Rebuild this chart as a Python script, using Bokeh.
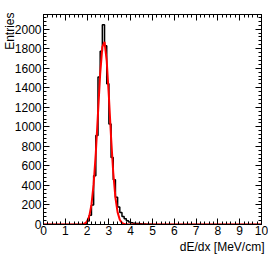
import numpy as np
from bokeh.plotting import figure
from bokeh.models import (Range1d, LinearAxis, SingleIntervalTicker, Title,
                          CustomJSTickFormatter)
from bokeh.embed import file_html
from bokeh.resources import INLINE

# ---- data ----
bin_lo = 0.0
bin_hi = 10.0
n_bins = 100
counts = [
    0, 0, 0, 0, 0, 0, 0, 0, 0, 0,
    0, 0, 0, 0, 0, 0, 0, 1, 3, 12,
    35, 95, 200, 500, 910, 1510, 1775, 2045, 1830, 1440,
    1030, 687, 458, 280, 178, 123, 82, 58, 38, 26,
    19, 14, 11, 9, 7, 5, 4, 3, 2, 2,
    1, 1, 1, 0, 0, 0, 0, 0, 0, 0,
    0, 0, 0, 0, 0, 0, 0, 0, 0, 0,
    0, 0, 0, 0, 0, 0, 0, 0, 0, 0,
    0, 0, 0, 0, 0, 0, 0, 0, 0, 0,
    0, 0, 0, 0, 0, 0, 0, 0, 0, 0,
]
fit_x = [0.0, 1.5, 1.6, 1.7, 1.8, 1.9, 2.0, 2.1, 2.2, 2.3, 2.4, 2.5, 2.6, 2.7,
         2.8, 2.9, 3.0, 3.1, 3.2, 3.3, 3.4, 3.5, 3.6, 3.7, 3.8, 3.9, 4.0, 10.0]
fit_y = [0, 0, 0.2, 0.7, 3, 10, 32, 86, 203, 413, 735, 1140, 1542, 1818,
         1869, 1674, 1308, 891, 529, 274, 124, 49, 17, 5, 1.3, 0.3, 0, 0]
x_title = "dE/dx [MeV/cm]"
y_title = "Entries"
y_max = 2150

FONT = "Liberation Sans"
FS = "12px"

p = figure(width=268, height=258, output_backend="svg", toolbar_location=None,
           x_range=Range1d(bin_lo, bin_hi), y_range=Range1d(0, y_max),
           x_axis_location=None, y_axis_location=None,
           min_border_left=43, min_border_right=7, min_border_top=14, min_border_bottom=34)
p.grid.visible = False
p.outline_line_color = "black"
p.outline_line_width = 1
p.background_fill_color = "white"
p.border_fill_color = "white"


def make_axis(interval, labels):
    ax = LinearAxis(ticker=SingleIntervalTicker(interval=interval, num_minor_ticks=5))
    ax.axis_line_color = "black"
    ax.major_tick_line_color = "black"
    ax.minor_tick_line_color = "black"
    ax.major_tick_in = 6
    ax.major_tick_out = 0
    ax.minor_tick_in = 3
    ax.minor_tick_out = 0
    ax.major_label_text_font = FONT
    ax.major_label_text_color = "black"
    ax.major_label_text_font_size = FS
    if not labels:
        ax.formatter = CustomJSTickFormatter(code="return ''")
        ax.major_label_standoff = 0
    return ax


xb = make_axis(1, True)
xb.major_label_standoff = 1
p.add_layout(xb, "below")
xt = make_axis(1, False)
p.add_layout(xt, "above")
yl = make_axis(200, True)
yl.major_label_standoff = 2
p.add_layout(yl, "left")
yr = make_axis(200, False)
p.add_layout(yr, "right")

p.add_layout(Title(text=x_title, align="right", offset=-3, standoff=0,
                   text_font=FONT, text_font_size=FS, text_font_style="normal",
                   text_color="black"), "below")

y_t = Title(text=y_title, align="right", offset=-2, standoff=0,
            text_font=FONT, text_font_size=FS, text_font_style="normal",
            text_color="black")
try:
    y_t.standoff = -11
except Exception:
    y_t.standoff = 0
p.add_layout(y_t, "left")

edges = np.linspace(bin_lo, bin_hi, n_bins + 1)
p.step(x=edges, y=counts + [counts[-1]], mode="after", line_color="black", line_width=1.5)
p.line(x=fit_x, y=fit_y, line_color="#ff0000", line_width=2)

open("out.html", "w").write(file_html(p, INLINE))
